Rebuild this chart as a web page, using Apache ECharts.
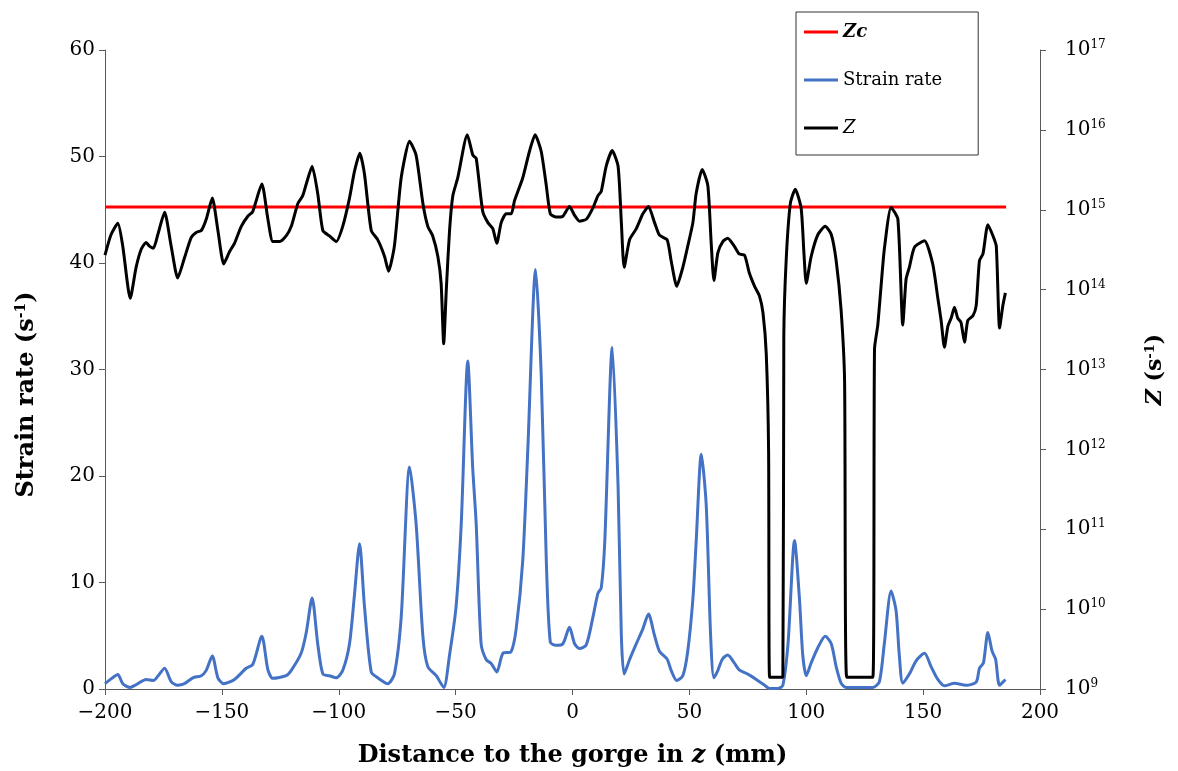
<!DOCTYPE html>
<html>
<head>
<meta charset="utf-8">
<script src="https://cdn.jsdelivr.net/npm/echarts@6/dist/echarts.min.js"></script>
<style>
html,body{margin:0;padding:0;background:#fff;}
#c{width:1178px;height:771px;}
</style>
</head>
<body>
<div id="c"></div>
<script>
// ---- Data ----
const xTicks = [-200, -150, -100, -50, 0, 50, 100, 150, 200];
const leftTicks = [0, 10, 20, 30, 40, 50, 60];
const rightTickExponents = [9, 10, 11, 12, 13, 14, 15, 16, 17];

const zcValue = 1.08e15;
const zcX = [-200, 185.5];

const srX = [-200,-197.4,-194.5,-192.4,-189.3,-186.7,-182.4,-179.3,-177.4,-174.5,-171.7,-168.9,-166,-162.4,-158.8,-156.7,-154.1,-151.7,-149.2,-144.6,-139.6,-136.8,-132.9,-130.3,-128.2,-122.5,-120.3,-116.1,-113.9,-111.4,-109,-106.8,-104,-101.1,-98.3,-95.4,-93.3,-91.1,-89,-86.1,-83.3,-79,-76.2,-73.3,-69.7,-66.9,-64,-61.9,-58.3,-55.1,-52.6,-49.8,-47.6,-44.8,-42.7,-41.2,-39.1,-36.9,-34.8,-32.4,-29.8,-26.3,-24.1,-21.3,-19.1,-15.8,-13.4,-11.2,-9.5,-7,-4.1,-1.3,0.9,3,5.9,8.7,10.9,12.3,13.8,17,19.5,20.9,22.1,24.4,27.3,30.1,32.5,35,37.2,40.5,42.2,44.6,47.2,49.3,51.5,52.9,55.1,57.2,59.1,60.5,62.2,64.1,66.4,69.2,71.3,75,78.6,82.2,84.3,87.9,90,92.2,95,97.1,98.5,100,102.1,105,108.1,110.7,112.8,114.9,117.1,128.5,131.3,133.4,136.3,138.4,139.8,141.3,144.1,147,150.6,153.4,156.3,159.1,163.4,168.4,172.7,174.1,175.8,177.7,179.5,181,182.7,185.2];
const srVal = [0.5,0.95,1.35,0.5,0.15,0.4,0.9,0.8,1.2,1.95,0.7,0.35,0.5,1.05,1.25,1.75,3.1,1.05,0.5,0.9,1.95,2.3,4.95,1.8,1.0,1.25,1.75,3.35,5.3,8.55,4.25,1.4,1.25,1.05,1.75,4.25,8.8,13.65,7.75,1.6,1.05,0.5,1.4,6.7,20.85,15.5,4.95,2.1,1.25,0.15,3.2,7.75,15.5,30.8,20.8,15.5,4.25,2.75,2.4,1.6,3.35,3.5,5.65,12,22.6,39.4,29.6,12,4.4,4.1,4.25,5.8,4.25,3.8,4.15,6.7,9,9.5,13.8,32.1,19,4.95,1.4,2.75,4.25,5.65,7.05,5.1,3.55,2.8,1.75,0.8,1.25,3.55,8.45,13.8,22.05,17.3,4.95,1.05,1.75,2.8,3.2,2.45,1.8,1.4,0.9,0.35,0.05,0.05,0.35,4.25,13.95,8.45,3.2,1.25,2.45,3.9,4.95,4.25,2.1,0.55,0.15,0.15,0.7,4.25,9.2,7.4,3.2,0.55,1.4,2.65,3.35,2.1,0.9,0.3,0.55,0.35,0.65,1.95,2.45,5.3,3.55,2.8,0.35,0.9];

const zX = [-200,-197.4,-194.5,-192.4,-189.2,-186.7,-184.5,-182.4,-181,-179.3,-177.4,-174.5,-171.7,-168.9,-166,-163.1,-161,-158.8,-156.7,-154.1,-151.7,-149.2,-146.7,-144.6,-141.7,-138.9,-136.8,-132.9,-130.3,-128.2,-125.3,-122.5,-120.3,-117.5,-115.4,-113.9,-111.4,-109,-106.8,-104,-101.1,-98.3,-95.4,-93.3,-91,-89,-86.1,-83.3,-80.4,-78.7,-76.2,-73.3,-69.7,-66.9,-64,-61.9,-59.8,-57.6,-56.2,-55.1,-54,-52.6,-51.2,-49.1,-45,-42.6,-41.2,-38.4,-36.2,-34.1,-32.4,-30.5,-28.4,-26.2,-24.8,-21.3,-18.4,-16,-13.4,-11.2,-9.5,-7,-4.1,-1.3,0.9,3,5.9,8.7,10.9,12.3,14.4,17,19.5,20.9,22.1,24.4,27.3,30.1,32.5,35.1,37.2,40.5,42.2,44.6,47.2,49.3,51.5,52.9,55.5,57.9,59.3,60.5,62.2,64.3,66.4,69.2,71.3,73.6,75.7,77.9,80,81.5,82.9,83.9,84.3,90,90.4,91.4,93.2,95.3,97.8,99,100,102.1,105,108.1,110.7,112.8,114.9,116.4,117.3,128.5,129.2,130.6,132,133.4,136.3,139.2,141.3,142.7,144.1,146.3,150.6,154.1,156.3,157.7,159.1,160.6,162,163.4,164.8,166.2,167.7,169.1,171.3,172.7,174.1,175.6,177.7,179.9,181.3,182.7,184.1,185.2];
const zVal = [2.7e14,4.9e14,6.8e14,3.5e14,7.8e13,1.9e14,3.2e14,3.9e14,3.5e14,3.3e14,4.9e14,9.3e14,3.5e14,1.4e14,2.5e14,4.5e14,5.2e14,5.5e14,7.6e14,1.4e15,5.5e14,2.1e14,3.0e14,3.8e14,6.2e14,8.3e14,9.5e14,2.1e15,7.6e14,4.0e14,4.0e14,4.7e14,6.2e14,1.2e15,1.5e15,2.1e15,3.5e15,1.6e15,5.5e14,4.7e14,4.0e14,6.2e14,1.4e15,3.0e15,5.1e15,2.8e15,5.5e14,4.2e14,2.6e14,1.7e14,3.5e14,2.5e15,7.2e15,4.8e15,1.2e15,6.2e14,4.7e14,2.6e14,1.2e14,2.1e13,9.8e13,5.5e14,1.5e15,2.5e15,8.7e15,4.8e15,4.4e15,9.5e14,6.9e14,5.8e14,3.8e14,6.9e14,8.9e14,8.9e14,1.3e15,2.5e15,5.4e15,8.7e15,5.4e15,2.0e15,8.9e14,8.1e14,8.3e14,1.1e15,8.5e14,7.2e14,7.6e14,1.05e15,1.5e15,1.7e15,3.5e15,5.5e15,3.5e15,6.9e14,1.9e14,4.2e14,5.8e14,8.9e14,1.1e15,6.9e14,4.8e14,4.2e14,2.3e14,1.1e14,1.9e14,3.5e14,6.9e14,1.6e15,3.2e15,2.0e15,4.0e14,1.3e14,2.9e14,4.0e14,4.4e14,3.5e14,2.8e14,2.7e14,1.6e14,1.1e14,8.3e13,5.1e13,1.55e13,9.1e11,1.4e9,1.4e9,2.6e13,2.3e14,1.2e15,1.8e15,1.05e15,2.9e14,1.2e14,2.6e14,4.9e14,6.2e14,4.9e14,2.3e14,5.6e13,7.2e12,1.4e9,1.4e9,1.8e13,3.6e13,1.1e14,3.2e14,1.07e15,7.6e14,3.6e13,1.35e14,1.9e14,3.4e14,4.1e14,2.1e14,7.8e13,4.1e13,1.9e13,3.5e13,4.4e13,6.0e13,4.4e13,3.9e13,2.2e13,4.1e13,4.7e13,6.3e13,2.3e14,2.8e14,6.5e14,4.7e14,3.5e14,3.3e13,6.3e13,9.1e13];

// ---- Chart ----
const FONT = 'DejaVu Serif';
const chart = echarts.init(document.getElementById('c'), null, {renderer: 'canvas'});
const pair = (xs, ys) => xs.map((x, i) => [x, ys[i]]);

const supRich = {
  b: {fontFamily: FONT, fontSize: 20, color: '#000'},
  s: {fontFamily: FONT, fontSize: 12, color: '#000', verticalAlign: 'top', padding: [0, 0, 10, 0]}
};

chart.setOption({
  animation: false,
  backgroundColor: '#fff',
  grid: {left: 105, right: 138, top: 50, bottom: 82, containLabel: false, outerBoundsMode: 'none'},
  legend: {
    orient: 'vertical',
    left: 796, top: 12,
    padding: [11, 36, 18, 8],
    itemGap: 30,
    itemWidth: 34, itemHeight: 3,
    icon: 'rect',
    borderColor: '#333', borderWidth: 1,
    data: ['Zc', 'Strain rate', 'Z'],
    formatter: function (n) {
      if (n === 'Zc') return '{zc|Zc}';
      if (n === 'Z') return '{z|Z}';
      return '{n|' + n + '}';
    },
    textStyle: {
      fontFamily: FONT, fontSize: 18, color: '#000',
      rich: {
        zc: {fontFamily: FONT, fontSize: 18, fontStyle: 'italic', fontWeight: 'bold', color: '#000'},
        z: {fontFamily: FONT, fontSize: 18, fontStyle: 'italic', color: '#000'},
        n: {fontFamily: FONT, fontSize: 18, color: '#000'}
      }
    }
  },
  xAxis: {
    type: 'value', min: xTicks[0], max: xTicks[xTicks.length - 1], interval: 50,
    name: '{b|Distance to the gorge in }{i|z}{b| (mm)}',
    nameLocation: 'middle', nameGap: 55,
    nameTextStyle: {
      rich: {
        b: {fontFamily: FONT, fontSize: 24, fontWeight: 'bold', color: '#000'},
        i: {fontFamily: FONT, fontSize: 24, fontWeight: 'bold', fontStyle: 'italic', color: '#000'}
      }
    },
    axisLine: {onZero: false, lineStyle: {color: '#595959', width: 1}},
    axisTick: {show: true, inside: false, length: 6, lineStyle: {color: '#595959'}},
    axisLabel: {
      fontFamily: FONT, fontSize: 20, color: '#000', margin: 14,
      formatter: v => (v < 0 ? '\u2212' + Math.abs(v) : String(v))
    },
    splitLine: {show: false}
  },
  yAxis: [
    {
      type: 'value', min: leftTicks[0], max: leftTicks[leftTicks.length - 1], interval: 10,
      position: 'left',
      name: '{b|Strain rate (s}{s|-1}{b|)}',
      nameLocation: 'middle', nameGap: 66, nameRotate: 90,
      nameTextStyle: {
        padding: [0, 50, 0, 0],
        rich: {
          b: {fontFamily: FONT, fontSize: 24, fontWeight: 'bold', color: '#000'},
          s: {fontFamily: FONT, fontSize: 14, fontWeight: 'bold', color: '#000', verticalAlign: 'top', padding: [0, 0, 11, 0]}
        }
      },
      axisLine: {show: true, onZero: false, lineStyle: {color: '#595959', width: 1}},
      axisTick: {show: true, inside: false, length: 6, lineStyle: {color: '#595959'}},
      axisLabel: {fontFamily: FONT, fontSize: 20, color: '#000', margin: 10},
      splitLine: {show: false}
    },
    {
      type: 'log', logBase: 10, min: Math.pow(10, rightTickExponents[0]), max: Math.pow(10, rightTickExponents[rightTickExponents.length - 1]),
      splitNumber: 8,
      position: 'right',
      name: '{i|Z}{b| (s}{s|-1}{b|)}',
      nameLocation: 'middle', nameGap: 104, nameRotate: 90,
      nameTextStyle: {
        rich: {
          i: {fontFamily: FONT, fontSize: 22, fontWeight: 'bold', fontStyle: 'italic', color: '#000'},
          b: {fontFamily: FONT, fontSize: 22, fontWeight: 'bold', color: '#000'},
          s: {fontFamily: FONT, fontSize: 13, fontWeight: 'bold', color: '#000', verticalAlign: 'top', padding: [0, 0, 10, 0]}
        }
      },
      axisLine: {show: true, onZero: false, lineStyle: {color: '#595959', width: 1}},
      axisTick: {show: true, inside: false, length: 6, lineStyle: {color: '#595959'}},
      axisLabel: {
        margin: 25,
        formatter: v => '{b|10}{s|' + Math.round(Math.log10(v)) + '}',
        rich: supRich
      },
      splitLine: {show: false}
    }
  ],
  series: [
    {
      name: 'Zc', type: 'line', yAxisIndex: 1, showSymbol: false, symbol: 'none',
      data: zcX.map(x => [x, zcValue]),
      lineStyle: {color: '#ff0000', width: 3}, itemStyle: {color: '#ff0000'}, z: 1
    },
    {
      name: 'Strain rate', type: 'line', yAxisIndex: 0, showSymbol: false, symbol: 'none',
      smooth: 0.25,
      data: pair(srX, srVal),
      lineStyle: {color: '#4472c4', width: 3}, itemStyle: {color: '#4472c4'}, z: 2
    },
    {
      name: 'Z', type: 'line', yAxisIndex: 1, showSymbol: false, symbol: 'none',
      smooth: 0.2,
      data: pair(zX, zVal),
      lineStyle: {color: '#000000', width: 3}, itemStyle: {color: '#000000'}, z: 3
    }
  ]
});
</script>
</body>
</html>
